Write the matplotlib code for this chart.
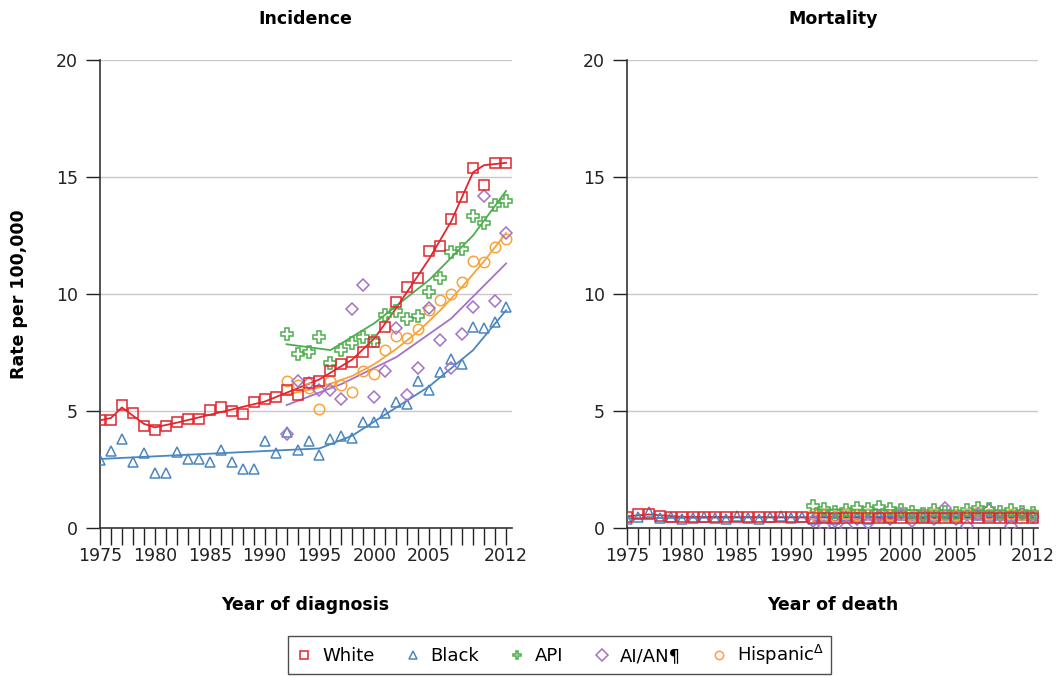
import numpy as np
import matplotlib
matplotlib.use("Agg")
import matplotlib.pyplot as plt
from matplotlib.lines import Line2D

years = list(range(1975, 2013))
years_late = list(range(1992, 2013))

# incidence, observed rates
white_inc = [4.6, 4.6, 5.25, 4.9, 4.35, 4.2, 4.35, 4.55, 4.65, 4.65,
             5.05, 5.15, 5.0, 4.85, 5.4, 5.5, 5.6, 5.9, 5.7, 6.2,
             6.3, 6.7, 7.0, 7.1, 7.5, 7.95, 8.6, 9.65, 10.3, 10.7,
             11.85, 12.05, 13.2, 14.15, 15.4, 14.65, 15.6, 15.6]
black_inc = [2.9, 3.3, 3.8, 2.8, 3.2, 2.35, 2.35, 3.25, 2.95, 2.95,
             2.8, 3.35, 2.8, 2.5, 2.5, 3.7, 3.2, 4.1, 3.35, 3.7,
             3.1, 3.8, 3.95, 3.85, 4.55, 4.55, 4.9, 5.4, 5.3, 6.3,
             5.9, 6.65, 7.2, 7.0, 8.6, 8.55, 8.8, 9.45]
api_inc = [8.3, 7.45, 7.5, 8.15, 7.05, 7.6, 7.9, 8.15, 8.0, 9.1, 9.25,
           8.95, 9.05, 10.1, 10.7, 11.8, 11.9, 13.35, 13.05, 13.8, 13.95]
aian_inc = [4.0, 6.3, 6.2, 5.9, 5.9, 5.5, 9.35, 10.4, 5.6, 6.7, 8.55,
            5.7, 6.85, 9.4, 8.05, 6.85, 8.3, 9.45, 14.2, 9.7, 12.6]
hisp_inc = [6.3, 6.1, 6.0, 5.1, 6.3, 6.1, 5.8, 6.7, 6.6, 7.6, 8.2,
            8.1, 8.5, 9.3, 9.75, 10.0, 10.5, 11.4, 11.35, 12.0, 12.35]

# incidence, fitted trend (joinpoints)
white_inc_jy = [1975, 1976, 1977, 1979, 1980, 1982, 1990, 1995, 1998, 2000, 2002, 2005, 2007, 2009, 2010, 2012]
white_inc_jv = [4.6, 4.7, 5.15, 4.45, 4.3, 4.5, 5.4, 6.35, 7.2, 8.1, 9.4, 11.5, 13.1, 15.2, 15.5, 15.6]
black_inc_jy = [1975, 1995, 1998, 2005, 2009, 2012]
black_inc_jv = [2.95, 3.4, 3.95, 6.05, 7.6, 9.3]
api_inc_jy = [1992, 1996, 2000, 2005, 2009, 2012]
api_inc_jv = [7.85, 7.6, 8.75, 10.6, 12.5, 14.4]
aian_inc_jy = [1992, 1997, 2002, 2007, 2012]
aian_inc_jv = [5.25, 6.15, 7.3, 8.95, 11.3]
hisp_inc_jy = [1992, 1995, 1998, 2000, 2002, 2004, 2006, 2008, 2010, 2012]
hisp_inc_jv = [5.7, 6.0, 6.5, 7.0, 7.65, 8.4, 9.3, 10.3, 11.4, 12.6]

# mortality, observed rates
white_mort = [0.48, 0.6, 0.62, 0.5, 0.48, 0.48, 0.48, 0.47, 0.47, 0.47,
              0.46, 0.46, 0.46, 0.46, 0.45, 0.45, 0.45, 0.44, 0.44, 0.43,
              0.43, 0.43, 0.43, 0.42, 0.42, 0.42, 0.43, 0.42, 0.42, 0.42,
              0.43, 0.43, 0.43, 0.44, 0.44, 0.44, 0.44, 0.44]
black_mort = [0.4, 0.45, 0.7, 0.42, 0.45, 0.4, 0.42, 0.45, 0.42, 0.4,
              0.5, 0.42, 0.4, 0.45, 0.5, 0.42, 0.48, 0.4, 0.45, 0.4,
              0.5, 0.45, 0.4, 0.5, 0.45, 0.55, 0.5, 0.45, 0.5, 0.55,
              0.5, 0.6, 0.55, 0.5, 0.55, 0.5, 0.55, 0.5]
api_mort = [0.95, 0.8, 0.7, 0.75, 0.85, 0.8, 0.9, 0.8, 0.75, 0.7, 0.6,
            0.75, 0.7, 0.65, 0.75, 0.85, 0.8, 0.7, 0.75, 0.7, 0.65]
aian_mort = [0.3, 0.1, 0.3, 0.05, 0.4, 0.2, 0.5, 0.4, 0.6, 0.3, 0.5,
             0.4, 0.85, 0.4, 0.1, 0.6, 0.75, 0.5, 0.1, 0.6, 0.45]
hisp_mort = [0.6, 0.55, 0.5, 0.6, 0.55, 0.6, 0.5, 0.55, 0.6, 0.5, 0.55,
             0.6, 0.5, 0.55, 0.6, 0.7, 0.6, 0.55, 0.6, 0.55, 0.6]

# mortality, fitted trend
white_mort_jy = [1975, 1977, 1980, 2000, 2012]
white_mort_jv = [0.5, 0.58, 0.48, 0.43, 0.44]
black_mort_jy = [1975, 2012]
black_mort_jv = [0.42, 0.52]
api_mort_jy = [1992, 2012]
api_mort_jv = [0.8, 0.72]
aian_mort_jy = [1992, 2012]
aian_mort_jv = [0.3, 0.5]
hisp_mort_jy = [1992, 2012]
hisp_mort_jv = [0.55, 0.6]

labels = ["White", "Black", "API", "AI/AN\u00b6", "Hispanic$^{\\Delta}$"]
colors = ["#e0262e", "#4a86c0", "#4cae4c", "#a472c8", "#f5a43a"]
markers = ["s", "^", "P", "D", "o"]
msizes = [7, 7.5, 8, 6.3, 7.5]

xtick_labels = [1975, 1980, 1985, 1990, 1995, 2000, 2005, 2012]

fig = plt.figure(figsize=(10.58, 6.8), dpi=100)
ax1 = fig.add_axes([0.0945, 0.2235, 0.389, 0.6885])
ax2 = fig.add_axes([0.5925, 0.2235, 0.389, 0.6885])

inc = [(years, white_inc, white_inc_jy, white_inc_jv),
       (years, black_inc, black_inc_jy, black_inc_jv),
       (years_late, api_inc, api_inc_jy, api_inc_jv),
       (years_late, aian_inc, aian_inc_jy, aian_inc_jv),
       (years_late, hisp_inc, hisp_inc_jy, hisp_inc_jv)]
mort = [(years, white_mort, white_mort_jy, white_mort_jv),
        (years, black_mort, black_mort_jy, black_mort_jv),
        (years_late, api_mort, api_mort_jy, api_mort_jv),
        (years_late, aian_mort, aian_mort_jy, aian_mort_jv),
        (years_late, hisp_mort, hisp_mort_jy, hisp_mort_jv)]

draw_order = [1, 4, 3, 2, 0]

for ax, series, title, xlabel in [(ax1, inc, "Incidence", "Year of diagnosis"),
                                   (ax2, mort, "Mortality", "Year of death")]:
    for i in draw_order:
        x, y, jy, jv = series[i]
        ax.plot(jy, jv, color=colors[i], lw=1.3, zorder=3)
        ax.plot(x, y, linestyle="none", marker=markers[i], ms=msizes[i],
                mfc="none", mec=colors[i], mew=1.1, zorder=4)
    ax.set_xlim(1975, 2012.5)
    ax.set_ylim(0, 20)
    ax.set_yticks([0, 5, 10, 15, 20])
    ax.set_xticks(years)
    ax.set_xticklabels([str(y) if y in xtick_labels else "" for y in years])
    ax.tick_params(axis="x", length=12, width=1, labelsize=12.5, pad=2,
                   colors="#222222")
    ax.tick_params(axis="y", length=10, width=1, labelsize=12.5, pad=6,
                   colors="#222222")
    ax.grid(axis="y", color="#c8c8c8", lw=1)
    ax.set_axisbelow(True)
    for s in ["top", "right"]:
        ax.spines[s].set_visible(False)
    for s in ["left", "bottom"]:
        ax.spines[s].set_color("#333333")
        ax.spines[s].set_linewidth(1.2)
    ax.set_title(title, fontsize=12.5, fontweight="bold", pad=26)
    ax.set_xlabel(xlabel, fontsize=12.5, fontweight="bold", labelpad=22)

ax1.set_ylabel("Rate per 100,000", fontsize=12.5, fontweight="bold", labelpad=20)

handles = [Line2D([], [], linestyle="none", marker=markers[i], ms=6,
                  mfc="none", mec=colors[i], mew=1.1) for i in range(5)]
fig.legend(handles, labels, loc="center", bbox_to_anchor=(0.529, 0.037),
           ncol=5, fontsize=13, frameon=True, fancybox=False,
           edgecolor="#222222", handletextpad=0.5, columnspacing=1.6,
           handlelength=1.0, borderpad=0.4, borderaxespad=0)

fig.savefig("out.png", dpi=100)
